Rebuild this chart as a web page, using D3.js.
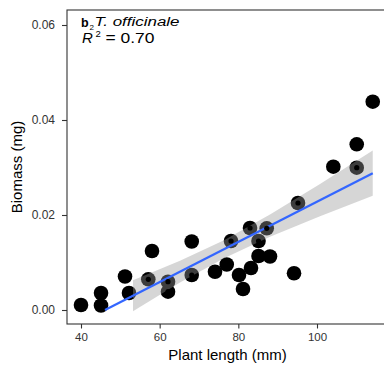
<!DOCTYPE html>
<html><head><meta charset="utf-8">
<script src="https://cdn.jsdelivr.net/npm/d3@7"></script>
<style>body{margin:0;background:#fff} svg{display:block}</style>
</head><body>
<svg id="c" width="384" height="368"></svg>
<script>
// ---- data ----
const plantLength = [40.0, 45.09, 45.09, 51.19, 52.2, 57.11, 58.05, 62.12, 62.12, 68.15, 68.15, 74.07, 77.05, 78.14, 80.17, 81.19, 82.97, 83.22, 85.13, 85.13, 87.22, 88.05, 94.16, 95.17, 104.15, 110.1, 110.1, 114.17];
const biomass = [0.00105, 0.00358, 0.00095, 0.00705, 0.00358, 0.00646, 0.01242, 0.00596, 0.00385, 0.01442, 0.00737, 0.00806, 0.00958, 0.01453, 0.00737, 0.00442, 0.01726, 0.00884, 0.01453, 0.01137, 0.0172, 0.01126, 0.00773, 0.02253, 0.03017, 0.03488, 0.02996, 0.04385];
const fitX = [46.1, 114.17];
const fitY = [0.0, 0.0288];
const bandX = [53.22, 65.17, 76.36, 88.05, 100.77, 114.17];
const bandLow = [-0.00025, 0.00577, 0.01091, 0.01541, 0.01975, 0.02404];
const bandHigh = [0.00627, 0.01036, 0.01469, 0.02008, 0.02653, 0.03356];
const xTicks = [40, 60, 80, 100];
const yTicks = [0, 0.02, 0.04, 0.06];
const panelLabel = "b";
const speciesLabel = "T. officinale";
const r2Label = "= 0.70";

// ---- layout ----
const svg = d3.select("#c");
const P = {left: 67, top: 10, right: 400, bottom: 324};
const x = d3.scaleLinear().domain([40, 100]).range([81, 317]);
const y = d3.scaleLinear().domain([0, 0.06]).range([310, 25]);
const FONT = "'Liberation Sans', Arial, sans-serif";

// points (big)
const pts = plantLength.map((v, i) => ({x: v, y: biomass[i]}));
svg.append("g").selectAll("circle").data(pts).join("circle")
  .attr("cx", d => x(d.x)).attr("cy", d => y(d.y)).attr("r", 7.3)
  .attr("fill", "#000");

// confidence band
const band = bandX.map((v, i) => ({x: v, lo: bandLow[i], hi: bandHigh[i]}));
svg.append("path").datum(band)
  .attr("d", d3.area().x(d => x(d.x)).y0(d => y(d.lo)).y1(d => y(d.hi)))
  .attr("fill", "#999999").attr("fill-opacity", 0.4);

// fit line
const fit = fitX.map((v, i) => ({x: v, y: fitY[i]}));
svg.append("path").datum(fit)
  .attr("d", d3.line().x(d => x(d.x)).y(d => y(d.y)))
  .attr("fill", "none").attr("stroke", "#3366FF").attr("stroke-width", 2.2);

// small points on top
svg.append("g").selectAll("circle").data(pts).join("circle")
  .attr("cx", d => x(d.x)).attr("cy", d => y(d.y)).attr("r", 2.6)
  .attr("fill", "#000");

// panel border
svg.append("rect").attr("x", P.left).attr("y", P.top)
  .attr("width", P.right - P.left).attr("height", P.bottom - P.top)
  .attr("fill", "none").attr("stroke", "#333").attr("stroke-width", 1.1);

// axes
const xAxis = svg.append("g").attr("transform", `translate(0,${P.bottom})`)
  .call(d3.axisBottom(x).tickValues(xTicks).tickSize(4.5).tickPadding(4).tickFormat(d3.format("d")));
const yAxis = svg.append("g").attr("transform", `translate(${P.left},0)`)
  .call(d3.axisLeft(y).tickValues(yTicks).tickSize(5).tickPadding(7).tickFormat(d3.format(".2f")));
[xAxis, yAxis].forEach(a => {
  a.select(".domain").remove();
  a.selectAll(".tick line").attr("stroke", "#333").attr("stroke-width", 1.1);
  a.selectAll(".tick text").attr("fill", "#333").attr("font-family", FONT).attr("font-size", 12);
});
xAxis.selectAll(".tick text").attr("font-size", 11.5);

// axis titles
svg.append("text").attr("x", 227.5).attr("y", 360).attr("text-anchor", "middle")
  .attr("font-family", FONT).attr("font-size", 15).attr("fill", "#000").text("Plant length (mm)");
svg.append("text").attr("transform", "translate(22,167) rotate(-90)").attr("text-anchor", "middle")
  .attr("font-family", FONT).attr("font-size", 15).attr("fill", "#000").text("Biomass (mg)");

// annotation
svg.append("text").attr("x", 81).attr("y", 26.5).attr("font-family", FONT)
  .attr("font-size", 12.5).attr("font-weight", "bold").text(panelLabel);
svg.append("text").attr("x", 89.5).attr("y", 30).attr("font-family", FONT)
  .attr("font-size", 8).text("2");
svg.append("text").attr("x", 94.5).attr("y", 26).attr("font-family", FONT)
  .attr("font-size", 12.5).attr("font-style", "italic")
  .attr("textLength", 85).attr("lengthAdjust", "spacingAndGlyphs").text(speciesLabel);
svg.append("text").attr("x", 82).attr("y", 42.5).attr("font-family", FONT)
  .attr("font-size", 15).attr("font-style", "italic").text("R");
svg.append("text").attr("x", 95.5).attr("y", 37).attr("font-family", FONT)
  .attr("font-size", 9.5).text("2");
svg.append("text").attr("x", 105.5).attr("y", 42.5).attr("font-family", FONT)
  .attr("font-size", 15).attr("textLength", 49).attr("lengthAdjust", "spacingAndGlyphs").text(r2Label);
</script>
</body></html>
